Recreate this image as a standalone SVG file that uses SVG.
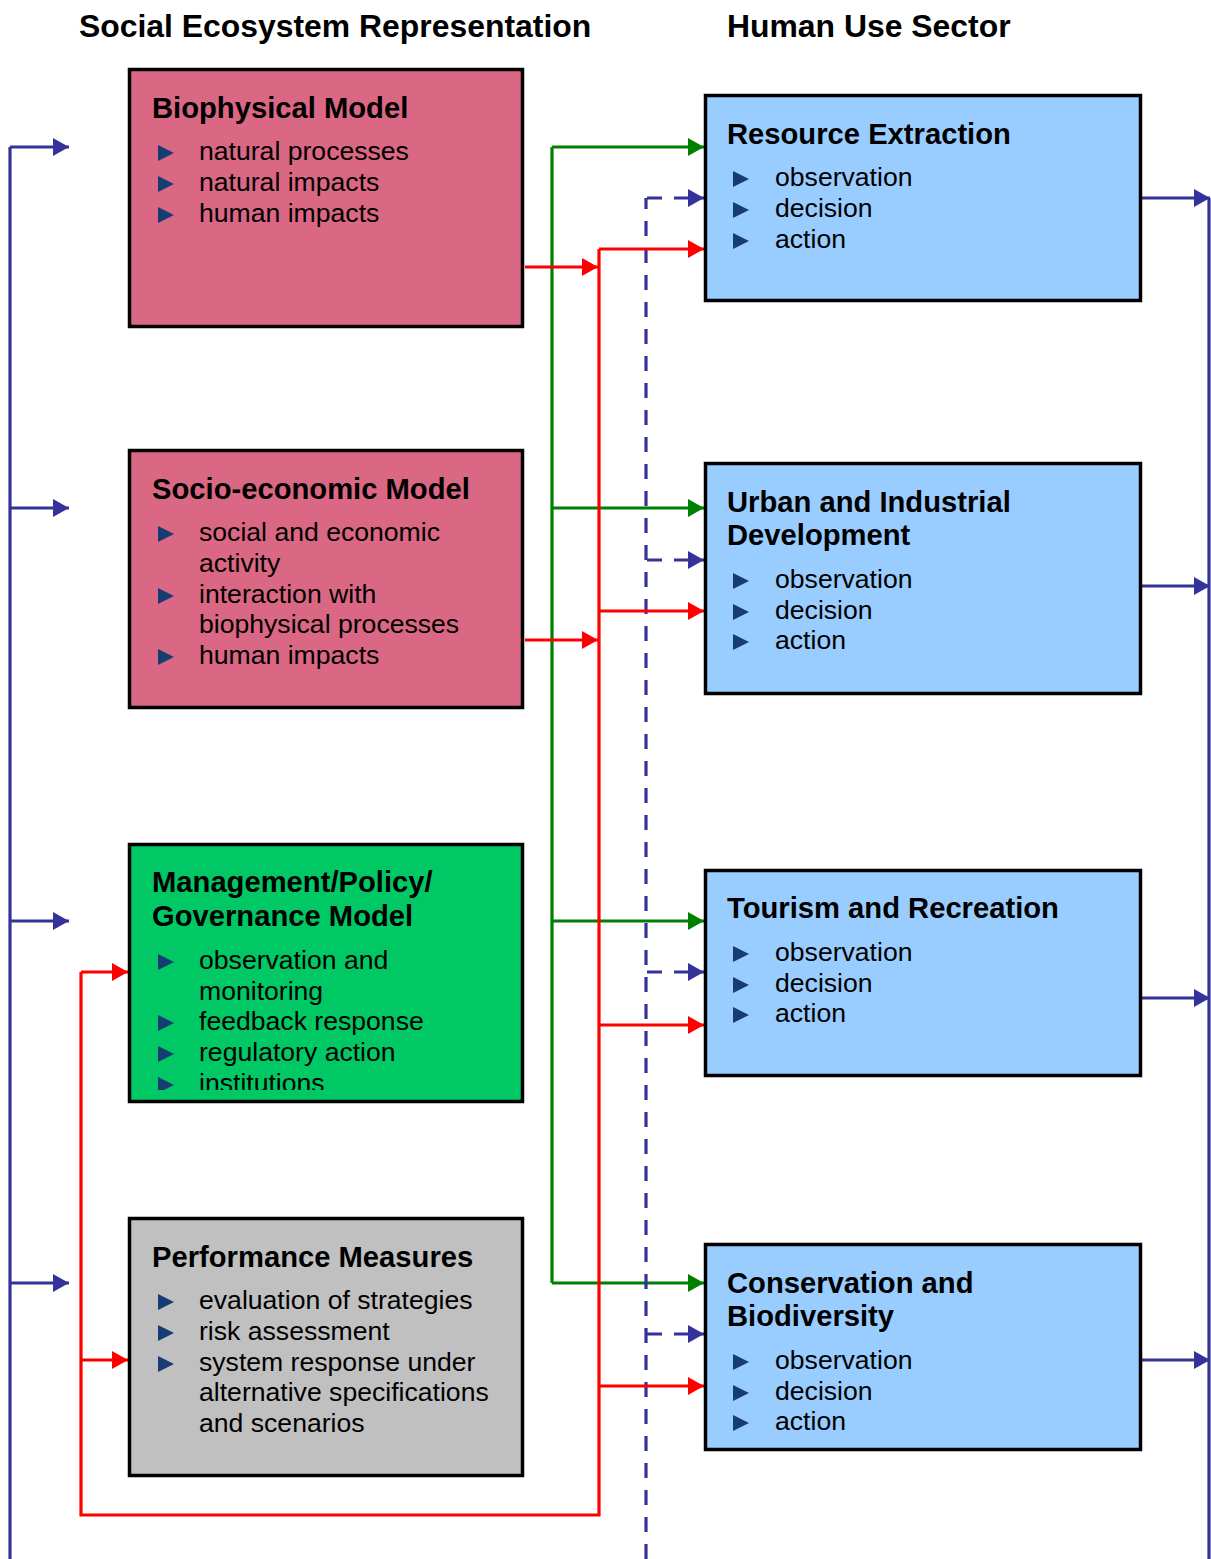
<svg xmlns="http://www.w3.org/2000/svg" width="1211" height="1559" viewBox="0 0 1211 1559">
<style>
.hdr{font-family:"Liberation Sans",Arial,sans-serif;font-weight:bold;font-size:31.9px;fill:#000}
.ttl{font-family:"Liberation Sans",Arial,sans-serif;font-weight:bold;font-size:29.2px;fill:#000}
.bt{font-family:"Liberation Sans",Arial,sans-serif;font-size:26.6px;fill:#000}
.box{stroke:#000;stroke-width:3.5}
.pink{fill:#da6783}
.grn{fill:#00c864}
.gry{fill:#c0c0c0}
.blu{fill:#99ccff}
.bul{fill:#173c74}
.cb{stroke:#333399;stroke-width:3.2;fill:none}
.cg{stroke:#008000;stroke-width:3.2;fill:none}
.cr{stroke:#ff0000;stroke-width:3.2;fill:none}
.cd{stroke:#333399;stroke-width:3.2;fill:none;stroke-dasharray:15 12}
</style>
<defs>
<marker id="ab" markerUnits="userSpaceOnUse" markerWidth="17" markerHeight="18" refX="16" refY="9" orient="auto"><path d="M0,0 L16,9 L0,18 Z" fill="#333399"/></marker>
<marker id="ag" markerUnits="userSpaceOnUse" markerWidth="17" markerHeight="18" refX="16" refY="9" orient="auto"><path d="M0,0 L16,9 L0,18 Z" fill="#008000"/></marker>
<marker id="ar" markerUnits="userSpaceOnUse" markerWidth="17" markerHeight="18" refX="16" refY="9" orient="auto"><path d="M0,0 L16,9 L0,18 Z" fill="#ff0000"/></marker>
<path id="tri" d="M0,-8 L16,0 L0,8 Z"/>
<clipPath id="mclip"><rect x="129" y="844" width="394" height="246"/></clipPath>
</defs>

<g id="headers">
<text class="hdr" x="79" y="37">Social Ecosystem Representation</text>
<text class="hdr" x="727" y="37">Human Use Sector</text>
</g>

<g id="connectors">
<path class="cb" d="M10,1559 V147"/>
<path class="cb" d="M10,147 H69" marker-end="url(#ab)"/>
<path class="cb" d="M10,508 H69" marker-end="url(#ab)"/>
<path class="cb" d="M10,921 H69" marker-end="url(#ab)"/>
<path class="cb" d="M10,1283 H69" marker-end="url(#ab)"/>
<path class="cb" d="M1209,198 V1559"/>
<path class="cb" d="M1142,198 H1210" marker-end="url(#ab)"/>
<path class="cb" d="M1142,586 H1210" marker-end="url(#ab)"/>
<path class="cb" d="M1142,998 H1210" marker-end="url(#ab)"/>
<path class="cb" d="M1142,1360 H1210" marker-end="url(#ab)"/>
<path class="cg" d="M552,147 V1283"/>
<path class="cg" d="M552,147 H704" marker-end="url(#ag)"/>
<path class="cg" d="M552,508 H704" marker-end="url(#ag)"/>
<path class="cg" d="M552,921 H704" marker-end="url(#ag)"/>
<path class="cg" d="M552,1283 H704" marker-end="url(#ag)"/>
<path class="cd" d="M646,1559 V198"/>
<path class="cd" d="M647,198 H704" marker-end="url(#ab)"/>
<path class="cd" d="M647,560 H704" marker-end="url(#ab)"/>
<path class="cd" d="M647,972 H704" marker-end="url(#ab)"/>
<path class="cd" d="M647,1334 H704" marker-end="url(#ab)"/>
<path class="cr" d="M525,267 H598" marker-end="url(#ar)"/>
<path class="cr" d="M525,640 H598" marker-end="url(#ar)"/>
<path class="cr" d="M599,249 V1515 H81 V972"/>
<path class="cr" d="M599,249 H704" marker-end="url(#ar)"/>
<path class="cr" d="M599,611 H704" marker-end="url(#ar)"/>
<path class="cr" d="M599,1025 H704" marker-end="url(#ar)"/>
<path class="cr" d="M599,1386 H704" marker-end="url(#ar)"/>
<path class="cr" d="M81,972 H128" marker-end="url(#ar)"/>
<path class="cr" d="M81,1360 H128" marker-end="url(#ar)"/>
</g>

<g id="biophysical">
<rect class="box pink" x="129.5" y="69.5" width="393" height="257"/>
<text class="ttl" x="152" y="118">Biophysical Model</text>
<use href="#tri" class="bul" x="158" y="153"/><text class="bt" x="199" y="160">natural processes</text>
<use href="#tri" class="bul" x="158" y="184"/><text class="bt" x="199" y="191">natural impacts</text>
<use href="#tri" class="bul" x="158" y="215"/><text class="bt" x="199" y="222">human impacts</text>
</g>

<g id="socioeconomic">
<rect class="box pink" x="129.5" y="450.5" width="393" height="257"/>
<text class="ttl" x="152" y="499">Socio-economic Model</text>
<use href="#tri" class="bul" x="158" y="534"/><text class="bt" x="199" y="541">social and economic</text>
<text class="bt" x="199" y="572">activity</text>
<use href="#tri" class="bul" x="158" y="596"/><text class="bt" x="199" y="603">interaction with</text>
<text class="bt" x="199" y="633">biophysical processes</text>
<use href="#tri" class="bul" x="158" y="657"/><text class="bt" x="199" y="664">human impacts</text>
</g>

<g id="management">
<rect class="box grn" x="129.5" y="844.5" width="393" height="257"/>
<text class="ttl" x="152" y="892">Management/Policy/</text>
<text class="ttl" x="152" y="926">Governance Model</text>
<g clip-path="url(#mclip)">
<use href="#tri" class="bul" x="158" y="962"/><text class="bt" x="199" y="969">observation and</text>
<text class="bt" x="199" y="1000">monitoring</text>
<use href="#tri" class="bul" x="158" y="1023"/><text class="bt" x="199" y="1030">feedback response</text>
<use href="#tri" class="bul" x="158" y="1054"/><text class="bt" x="199" y="1061">regulatory action</text>
<use href="#tri" class="bul" x="158" y="1085"/><text class="bt" x="199" y="1092">institutions</text>
</g>
</g>

<g id="performance">
<rect class="box gry" x="129.5" y="1218.5" width="393" height="257"/>
<text class="ttl" x="152" y="1267">Performance Measures</text>
<use href="#tri" class="bul" x="158" y="1302"/><text class="bt" x="199" y="1309">evaluation of strategies</text>
<use href="#tri" class="bul" x="158" y="1333"/><text class="bt" x="199" y="1340">risk assessment</text>
<use href="#tri" class="bul" x="158" y="1364"/><text class="bt" x="199" y="1371">system response under</text>
<text class="bt" x="199" y="1401">alternative specifications</text>
<text class="bt" x="199" y="1432">and scenarios</text>
</g>

<g id="resource">
<rect class="box blu" x="705.5" y="95.5" width="435" height="205"/>
<text class="ttl" x="727" y="144">Resource Extraction</text>
<use href="#tri" class="bul" x="733" y="179"/><text class="bt" x="775" y="186">observation</text>
<use href="#tri" class="bul" x="733" y="210"/><text class="bt" x="775" y="217">decision</text>
<use href="#tri" class="bul" x="733" y="241"/><text class="bt" x="775" y="248">action</text>
</g>

<g id="urban">
<rect class="box blu" x="705.5" y="463.5" width="435" height="230"/>
<text class="ttl" x="727" y="512">Urban and Industrial</text>
<text class="ttl" x="727" y="545">Development</text>
<use href="#tri" class="bul" x="733" y="581"/><text class="bt" x="775" y="588">observation</text>
<use href="#tri" class="bul" x="733" y="612"/><text class="bt" x="775" y="619">decision</text>
<use href="#tri" class="bul" x="733" y="642"/><text class="bt" x="775" y="649">action</text>
</g>

<g id="tourism">
<rect class="box blu" x="705.5" y="870.5" width="435" height="205"/>
<text class="ttl" x="727" y="918">Tourism and Recreation</text>
<use href="#tri" class="bul" x="733" y="954"/><text class="bt" x="775" y="961">observation</text>
<use href="#tri" class="bul" x="733" y="985"/><text class="bt" x="775" y="992">decision</text>
<use href="#tri" class="bul" x="733" y="1015"/><text class="bt" x="775" y="1022">action</text>
</g>

<g id="conservation">
<rect class="box blu" x="705.5" y="1244.5" width="435" height="205"/>
<text class="ttl" x="727" y="1293">Conservation and</text>
<text class="ttl" x="727" y="1326">Biodiversity</text>
<use href="#tri" class="bul" x="733" y="1362"/><text class="bt" x="775" y="1369">observation</text>
<use href="#tri" class="bul" x="733" y="1393"/><text class="bt" x="775" y="1400">decision</text>
<use href="#tri" class="bul" x="733" y="1423"/><text class="bt" x="775" y="1430">action</text>
</g>
</svg>
